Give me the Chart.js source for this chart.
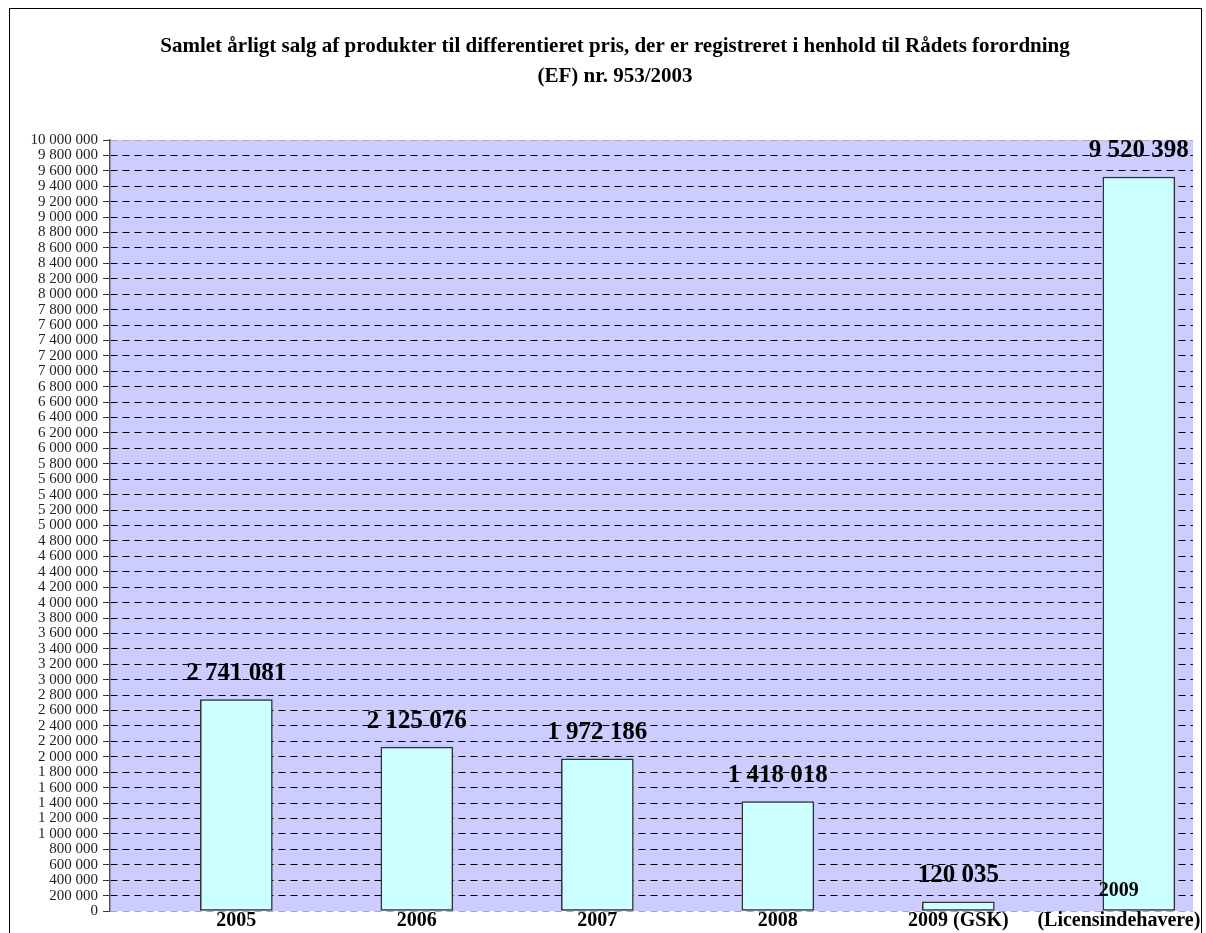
<!DOCTYPE html>
<html>
<head>
<meta charset="utf-8">
<script src="https://cdn.jsdelivr.net/npm/chart.js@4/dist/chart.umd.min.js"></script>
<style>
	body { margin: 0; background: #fff; }
	canvas { display: block; }
</style>
</head>
<body>
<canvas id="salesChart" width="1206" height="933"></canvas>
<script>
// Data
const categories = [
	["", "2005"],
	["", "2006"],
	["", "2007"],
	["", "2008"],
	["", "2009 (GSK)"],
	["2009        ", "(Licensindehavere)        "],
];
const salesValues = [2741081, 2125076, 1972186, 1418018, 120035, 9520398];
const titleLines = [
	"Samlet årligt salg af produkter til differentieret pris, der er registreret i henhold til Rådets forordning",
	"(EF) nr. 953/2003",
];

// Format numbers with space as thousands separator
function formatNumber(value) {
	return String(value).replace(/\B(?=(\d{3})+(?!\d))/g, " ");
}

const serif = "'Liberation Serif', 'Times New Roman', serif";

// Lavender plot background and the outer frame
const backgroundPlugin = {
	id: "plotBackground",
	beforeDraw(chart) {
		const { ctx, chartArea } = chart;
		ctx.save();
		ctx.fillStyle = "#ccccff";
		ctx.fillRect(chartArea.left, chartArea.top, chartArea.right - chartArea.left, chartArea.bottom - chartArea.top);
		ctx.strokeStyle = "#000";
		ctx.lineWidth = 1;
		ctx.strokeRect(9.5, 8.5, 1192, 1000);
		ctx.restore();
	},
};

// Value labels above bars
const valueLabelPlugin = {
	id: "valueLabels",
	afterDatasetsDraw(chart) {
		const ctx = chart.ctx;
		const meta = chart.getDatasetMeta(0);
		ctx.save();
		ctx.font = "bold 25px " + serif;
		ctx.fillStyle = "#000";
		ctx.textAlign = "center";
		ctx.textBaseline = "middle";
		meta.data.forEach((bar, i) => {
			ctx.fillText(formatNumber(salesValues[i]), bar.x, bar.y - 26);
		});
		ctx.restore();
	},
};

const ctx = document.getElementById("salesChart").getContext("2d");
new Chart(ctx, {
	type: "bar",
	data: {
		datasets: [
			{
				data: salesValues.map((v, i) => ({ x: i, y: v })),
				backgroundColor: "#ccffff",
				borderColor: "#333333",
				borderWidth: 1.5,
				borderSkipped: false,
				barThickness: 72,
			},
		],
	},
	options: {
		responsive: false,
		animation: false,
		devicePixelRatio: 1,
		layout: { padding: { left: 24, right: 0, top: 0, bottom: 0 } },
		plugins: {
			legend: { display: false },
			tooltip: { enabled: false },
			title: {
				display: true,
				text: titleLines,
				color: "#000",
				font: { family: serif, size: 21, weight: "bold", lineHeight: 30 / 21 },
				padding: { top: 32, bottom: 48 },
			},
		},
		scales: {
			x: {
				type: "linear",
				position: "bottom",
				min: -0.7,
				max: 5.3,
				offset: false,
				grid: { display: false, drawTicks: false },
				border: { display: false },
				ticks: {
					z: 1, // labels drawn above the bars
					mirror: true, // no clipping, so "2009" can sit inside the plot
					autoSkip: false,
					maxRotation: 0,
					padding: 5,
					color: "#000",
					font: { family: serif, size: 20, weight: "bold", lineHeight: 1.5 },
					callback: (value) => (Number.isInteger(value) && categories[value] ? categories[value] : ""),
				},
				// one tick per category
				afterBuildTicks(scale) {
					scale.ticks = categories.map((c, i) => ({ value: i }));
				},
				afterFit(scale) {
					scale.height = 22;
					scale.paddingLeft = 0;
					scale.paddingRight = 13;
				},
			},
			y: {
				min: 0,
				max: 10000000,
				grid: {
					color: (c) => (c.tick && (c.tick.value === 0 || c.tick.value === 10000000) ? "#aaaaaa" : "#000000"),
					lineWidth: 1,
					tickLength: 7,
					tickColor: "#333",
					tickBorderDash: [],
				},
				border: { display: true, color: "#555", width: 1.5, dash: [7, 5] },
				ticks: {
					stepSize: 200000,
					maxTicksLimit: 60,
					autoSkip: false,
					padding: 5,
					color: "#222",
					font: { family: serif, size: 15, lineHeight: 1 },
					callback: (value) => formatNumber(value),
				},
				afterFit(scale) {
					scale.width = 86;
				},
			},
		},
	},
	plugins: [backgroundPlugin, valueLabelPlugin],
});
</script>
</body>
</html>
